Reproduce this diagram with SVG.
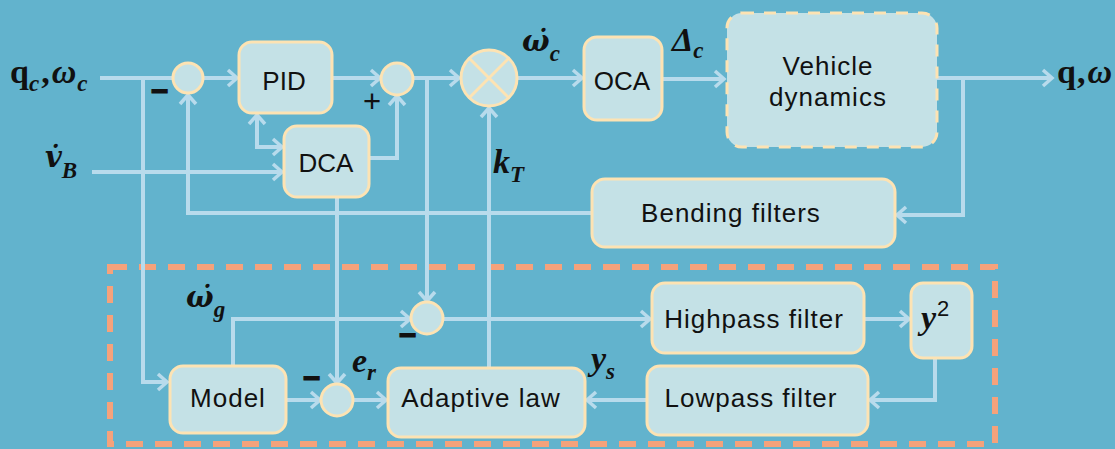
<svg xmlns="http://www.w3.org/2000/svg" width="1115" height="449" viewBox="0 0 1115 449">
<defs>
<marker id="arr" markerUnits="userSpaceOnUse" markerWidth="16" markerHeight="20" viewBox="0 0 16 20" refX="13" refY="10" orient="auto-start-reverse">
<path d="M4,2 L13,10 L4,18" fill="none" stroke="#b8dbec" stroke-width="3.5"/>
</marker>
<style>
.n{fill:#c4e1e6;stroke:#fde3b3;stroke-width:3}
.c{fill:none;stroke:#b8dbec;stroke-width:4}
.t{font-family:"Liberation Sans",Arial,sans-serif;font-size:26px;fill:#111;text-anchor:middle;letter-spacing:1px}
.tc{font-family:"Liberation Sans",Arial,sans-serif;font-size:26px;fill:#111;text-anchor:middle}
.m{font-family:"Liberation Serif","Times New Roman",serif;font-weight:bold;font-style:italic;font-size:34px;fill:#111}
.d{font-family:"DejaVu Serif",serif;font-size:29px}
.s{font-family:"Liberation Serif","Times New Roman",serif;font-size:23px}
.up{font-style:normal}
.mn{font-family:"Liberation Sans",Arial,sans-serif;font-weight:bold;font-size:30px;fill:#111;stroke:#111;stroke-width:1.2}
</style>
</defs>
<rect width="1115" height="449" fill="#62b3cd"/>
<rect x="110" y="267" width="885" height="177" fill="none" stroke="#f5a27b" stroke-width="6" stroke-dasharray="17 12"/>
<g id="connectors">
<path class="c" d="M100,78 H173"/>
<path class="c" d="M143,78 V382 H167" marker-end="url(#arr)"/>
<path class="c" d="M203,78 H237" marker-end="url(#arr)"/>
<path class="c" d="M332,78 H380" marker-end="url(#arr)"/>
<path class="c" d="M257,115 V147 H282" marker-start="url(#arr)" marker-end="url(#arr)"/>
<path class="c" d="M92,172 H282" marker-end="url(#arr)"/>
<path class="c" d="M369,158 H397 V96" marker-end="url(#arr)"/>
<path class="c" d="M413,78 H459" marker-end="url(#arr)"/>
<path class="c" d="M427,78 V301" marker-end="url(#arr)"/>
<path class="c" d="M518,78 H582" marker-end="url(#arr)"/>
<path class="c" d="M662,79 H724" marker-end="url(#arr)"/>
<path class="c" d="M937,78 H1052" marker-end="url(#arr)"/>
<path class="c" d="M963,78 V215 H897" marker-end="url(#arr)"/>
<path class="c" d="M592,213 H188 V95" marker-end="url(#arr)"/>
<path class="c" d="M337,197 V383" marker-end="url(#arr)"/>
<path class="c" d="M489,368 V108" marker-end="url(#arr)"/>
<path class="c" d="M233,366 V319 H410" marker-end="url(#arr)"/>
<path class="c" d="M443,319 H650" marker-end="url(#arr)"/>
<path class="c" d="M864,319 H909" marker-end="url(#arr)"/>
<path class="c" d="M935,358 V400 H870" marker-end="url(#arr)"/>
<path class="c" d="M647,400 H587" marker-end="url(#arr)"/>
<path class="c" d="M286,400 H320" marker-end="url(#arr)"/>
<path class="c" d="M353,400 H386" marker-end="url(#arr)"/>
</g>
<g id="sum1"><circle class="n" cx="188" cy="78" r="15"/><text class="mn" x="151" y="101">−</text></g>
<g id="pid"><rect class="n" x="239" y="42" width="93" height="71" rx="13"/><text class="tc" x="284" y="90">PID</text></g>
<g id="dca"><rect class="n" x="284" y="126" width="85" height="71" rx="13"/><text class="tc" x="326" y="172">DCA</text></g>
<g id="sum2"><circle class="n" cx="397" cy="79" r="16"/><text x="372" y="112" style="font-family:'Liberation Sans',Arial,sans-serif;font-size:31px;fill:#111;text-anchor:middle">+</text></g>
<g id="mult"><circle class="n" cx="489" cy="78" r="28"/><path d="M469,58 L509,98 M509,58 L469,98" stroke="#fde3b3" stroke-width="3"/></g>
<g id="oca"><rect class="n" x="584" y="37" width="78" height="83" rx="13"/><text class="tc" x="622" y="90">OCA</text></g>
<g id="vehicle"><rect x="727" y="13" width="210" height="134" rx="15" fill="#c4e1e6" stroke="#fde3b3" stroke-width="3" stroke-dasharray="12 10"/><text class="t" x="828" y="75">Vehicle</text><text class="t" x="828" y="106">dynamics</text></g>
<g id="bending"><rect class="n" x="592" y="179" width="303" height="68" rx="13"/><text class="t" x="731" y="222">Bending filters</text></g>
<g id="sum3"><circle class="n" cx="427" cy="318" r="16"/><text class="mn" x="399" y="345">−</text></g>
<g id="model"><rect class="n" x="170" y="366" width="116" height="67" rx="13"/><text class="t" x="228" y="407">Model</text></g>
<g id="sum4"><circle class="n" cx="337" cy="400" r="16"/><text class="mn" x="303" y="388">−</text></g>
<g id="adaptive"><rect class="n" x="388" y="368" width="197" height="69" rx="13"/><text class="t" x="481" y="407">Adaptive law</text></g>
<g id="highpass"><rect class="n" x="652" y="283" width="212" height="70" rx="13"/><text class="t" x="754" y="328">Highpass filter</text></g>
<g id="square"><rect class="n" x="911" y="283" width="61" height="75" rx="12"/><text class="m" x="921" y="329">y<tspan style="font-style:normal;font-family:'Liberation Sans',Arial,sans-serif;font-weight:normal;font-size:22px" dx="1" dy="-13">2</tspan></text></g>
<g id="lowpass"><rect class="n" x="647" y="366" width="221" height="69" rx="13"/><text class="t" x="751" y="407">Lowpass filter</text></g>
<g id="labels">
<text class="m" x="10" y="83"><tspan class="up">q</tspan><tspan class="s" dy="8">c</tspan><tspan class="up" dx="2" dy="-8">,</tspan><tspan dx="2">ω</tspan><tspan class="s" dx="1" dy="8">c</tspan></text>
<text class="m" x="45" y="167"><tspan class="d">v̇</tspan><tspan class="s" dy="11">B</tspan></text>
<text class="m" x="522" y="51"><tspan class="d">ω̇</tspan><tspan class="s" dy="10">c</tspan></text>
<text class="m" x="672" y="51">Δ<tspan class="s" dy="7">c</tspan></text>
<text class="m" x="493" y="173">k<tspan class="s" dy="9">T</tspan></text>
<text class="m" x="1057" y="83"><tspan class="up">q</tspan><tspan class="up" dx="1">,</tspan><tspan dx="2">ω</tspan></text>
<text class="m" x="186" y="307"><tspan class="d">ω̇</tspan><tspan class="s" dy="10">g</tspan></text>
<text class="m" x="352" y="372">e<tspan class="s" dy="8">r</tspan></text>
<text class="m" x="591" y="370">y<tspan class="s" dy="9">s</tspan></text>
</g>
</svg>
